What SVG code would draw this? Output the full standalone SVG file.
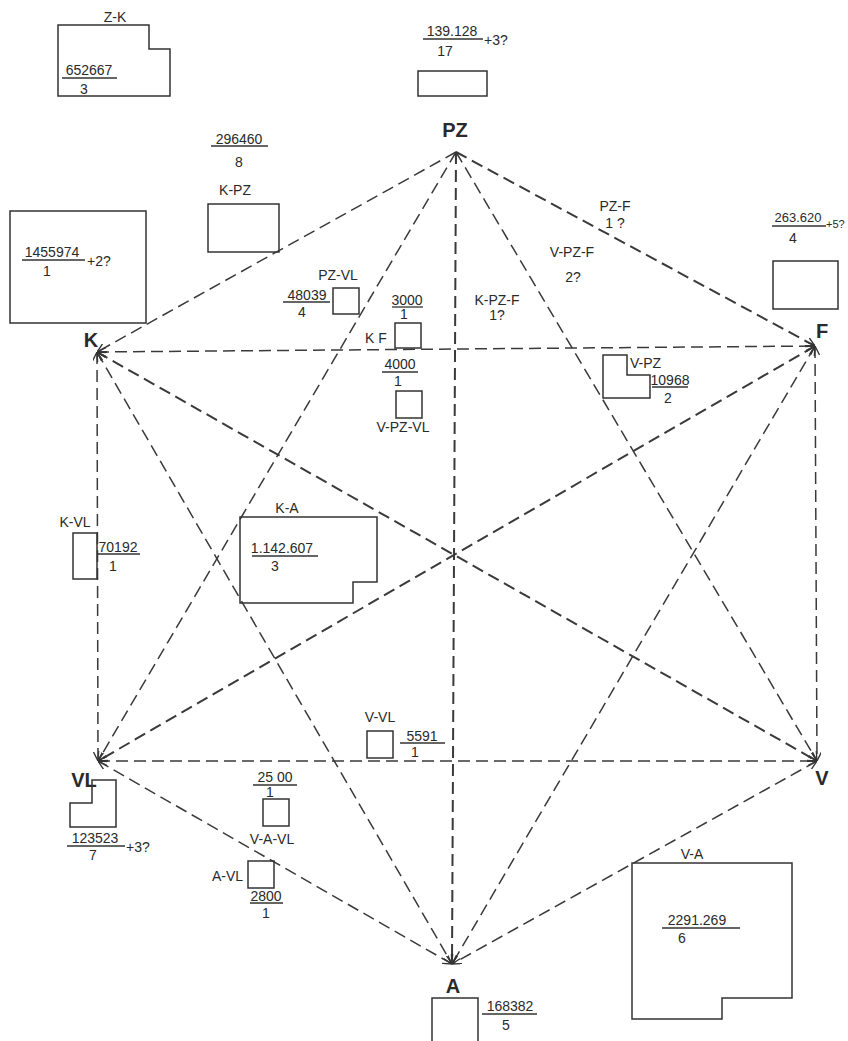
<svg xmlns="http://www.w3.org/2000/svg" width="848" height="1041" viewBox="0 0 848 1041">
<style>
.t{font-family:"Liberation Sans",Arial,sans-serif;font-size:14px;fill:#2a2a2a;text-anchor:middle}
.s{text-anchor:start}
.r{text-anchor:end}
.n{font-size:20px;font-weight:bold}
.b{fill:none;stroke:#333;stroke-width:1.5}
.f{stroke:#333;stroke-width:1.3}
.e{stroke:#3a3a3a;stroke-width:1.5;stroke-dasharray:12 6;fill:none}
.e2{stroke-width:2}
</style>
<defs>
<marker id="ah" viewBox="0 0 10 10" refX="10" refY="5" markerWidth="9" markerHeight="9" markerUnits="userSpaceOnUse" orient="auto-start-reverse">
<path d="M0,0 L10,5 L0,10" fill="none" stroke="#333" stroke-width="1.5"/>
</marker>
</defs>
<rect width="848" height="1041" fill="#fff"/>
<g id="connectors">
<line class="e" x1="456" y1="152" x2="97" y2="352" marker-end="url(#ah)"/>
<line class="e e2" x1="456" y1="152" x2="815" y2="346" marker-end="url(#ah)"/>
<line class="e" x1="456" y1="152" x2="98" y2="761" marker-end="url(#ah)"/>
<line class="e" x1="456" y1="152" x2="817" y2="761" marker-end="url(#ah)"/>
<line class="e e2" x1="456" y1="152" x2="452" y2="964" marker-end="url(#ah)"/>
<line class="e" x1="97" y1="352" x2="815" y2="346" marker-start="url(#ah)" marker-end="url(#ah)"/>
<line class="e" x1="97" y1="352" x2="98" y2="761" marker-start="url(#ah)" marker-end="url(#ah)"/>
<line class="e e2" x1="97" y1="352" x2="817" y2="761" marker-start="url(#ah)" marker-end="url(#ah)"/>
<line class="e" x1="97" y1="352" x2="452" y2="964" marker-start="url(#ah)" marker-end="url(#ah)"/>
<line class="e e2" x1="815" y1="346" x2="98" y2="761" marker-start="url(#ah)" marker-end="url(#ah)"/>
<line class="e" x1="815" y1="346" x2="817" y2="761" marker-start="url(#ah)" marker-end="url(#ah)"/>
<line class="e" x1="815" y1="346" x2="452" y2="964" marker-start="url(#ah)" marker-end="url(#ah)"/>
<line class="e" x1="98" y1="761" x2="817" y2="761" marker-start="url(#ah)" marker-end="url(#ah)"/>
<line class="e" x1="98" y1="761" x2="452" y2="964" marker-start="url(#ah)" marker-end="url(#ah)"/>
<line class="e" x1="817" y1="761" x2="452" y2="964" marker-start="url(#ah)" marker-end="url(#ah)"/>
</g>
<g id="node-PZ"><text class="t n" x="455" y="137">PZ</text></g>
<g id="node-K"><text class="t n" x="91" y="347">K</text></g>
<g id="node-F"><text class="t n" x="822" y="338">F</text></g>
<g id="node-VL"><text class="t n" x="84" y="787">VL</text></g>
<g id="node-V"><text class="t n" x="822" y="785">V</text></g>
<g id="node-A"><text class="t n" x="453" y="993">A</text></g>

<g id="box-Z-K">
<path class="b" d="M58,25 H149 V49 H170 V96 H58 Z"/>
<text class="t" x="115" y="22">Z-K</text>
<text class="t" x="89" y="75">652667</text>
<line class="f" x1="62" y1="78" x2="117" y2="78"/>
<text class="t" x="84" y="94">3</text>
</g>
<g id="box-top">
<text class="t" x="452" y="36">139.128</text>
<line class="f" x1="423" y1="39" x2="483" y2="39"/>
<text class="t s" x="484" y="45">+3?</text>
<text class="t" x="445" y="56">17</text>
<rect class="b" x="418" y="71" width="69" height="25"/>
</g>
<g id="box-K-PZ">
<text class="t" x="239" y="144">296460</text>
<line class="f" x1="211" y1="146" x2="268" y2="146"/>
<text class="t" x="239" y="167">8</text>
<text class="t" x="235" y="195">K-PZ</text>
<rect class="b" x="208" y="204" width="71" height="48"/>
</g>
<g id="box-K">
<rect class="b" x="10" y="211" width="136" height="112"/>
<text class="t" x="52" y="257">1455974</text>
<line class="f" x1="22" y1="260" x2="85" y2="260"/>
<text class="t" x="47" y="276">1</text>
<text class="t s" x="87" y="266">+2?</text>
</g>
<g id="box-PZ-VL">
<text class="t" x="338" y="280">PZ-VL</text>
<text class="t" x="307" y="300">48039</text>
<line class="f" x1="283" y1="302" x2="330" y2="302"/>
<text class="t" x="302" y="317">4</text>
<rect class="b" x="333" y="288" width="26" height="26"/>
</g>
<g id="box-K-F">
<text class="t" x="407" y="305">3000</text>
<line class="f" x1="392" y1="307" x2="423" y2="307"/>
<text class="t" x="404" y="319">1</text>
<text class="t" x="376" y="343">K F</text>
<rect class="b" x="395" y="323" width="26" height="25"/>
</g>
<g id="box-V-PZ-VL">
<text class="t" x="400" y="369">4000</text>
<line class="f" x1="382" y1="372" x2="418" y2="372"/>
<text class="t" x="398" y="386">1</text>
<rect class="b" x="396" y="391" width="26" height="27"/>
<text class="t" x="403" y="432">V-PZ-VL</text>
</g>
<g id="label-PZ-F">
<text class="t" x="615" y="211">PZ-F</text>
<text class="t" x="615" y="228">1 ?</text>
</g>
<g id="label-V-PZ-F">
<text class="t" x="572" y="257">V-PZ-F</text>
<text class="t" x="573" y="282">2?</text>
</g>
<g id="label-K-PZ-F">
<text class="t" x="497" y="305">K-PZ-F</text>
<text class="t" x="497" y="320">1?</text>
</g>
<g id="box-F">
<text class="t" x="798" y="222" style="font-size:13px">263.620</text>
<line class="f" x1="772" y1="226" x2="826" y2="226"/>
<text class="t s" x="826" y="228" style="font-size:11px">+5?</text>
<text class="t" x="793" y="243">4</text>
<rect class="b" x="773" y="261" width="65" height="48"/>
</g>
<g id="box-V-PZ">
<path class="b" d="M603,355 H627 V375 H650 V398 H603 Z"/>
<text class="t s" x="630" y="368">V-PZ</text>
<text class="t" x="670" y="385">10968</text>
<line class="f" x1="652" y1="387" x2="688" y2="387"/>
<text class="t" x="668" y="403">2</text>
</g>
<g id="box-K-VL">
<text class="t" x="75" y="527">K-VL</text>
<rect class="b" x="73" y="533" width="24" height="46"/>
<text class="t" x="118" y="552">70192</text>
<line class="f" x1="98" y1="554" x2="140" y2="554"/>
<text class="t" x="113" y="571">1</text>
</g>
<g id="box-K-A">
<text class="t" x="287" y="513">K-A</text>
<path class="b" d="M240,517 H377 V582 H353 V603 H240 Z"/>
<text class="t" x="282" y="553">1.142.607</text>
<line class="f" x1="252" y1="556" x2="318" y2="556"/>
<text class="t" x="275" y="571">3</text>
</g>
<g id="box-V-VL">
<text class="t" x="380" y="722">V-VL</text>
<rect class="b" x="367" y="731" width="26" height="27"/>
<text class="t" x="422" y="741">5591</text>
<line class="f" x1="400" y1="743" x2="445" y2="743"/>
<text class="t" x="415" y="757">1</text>
</g>
<g id="box-VL">
<path class="b" d="M92,780 H116 V827 H70 V803 H92 Z"/>
<text class="t" x="95" y="843">123523</text>
<line class="f" x1="67" y1="846" x2="125" y2="846"/>
<text class="t" x="93" y="860">7</text>
<text class="t s" x="126" y="852">+3?</text>
</g>
<g id="box-V-A-VL">
<text class="t" x="275" y="782">25 00</text>
<line class="f" x1="253" y1="785" x2="297" y2="785"/>
<text class="t" x="270" y="797">1</text>
<rect class="b" x="263" y="799" width="26" height="27"/>
<text class="t" x="272" y="844">V-A-VL</text>
</g>
<g id="box-A-VL">
<text class="t r" x="243" y="881">A-VL</text>
<rect class="b" x="248" y="861" width="26" height="27"/>
<text class="t" x="266" y="901">2800</text>
<line class="f" x1="250" y1="903" x2="283" y2="903"/>
<text class="t" x="266" y="918">1</text>
</g>
<g id="box-A">
<path class="b" d="M432,1045 V998 H478 V1045"/>
<text class="t" x="510" y="1011">168382</text>
<line class="f" x1="482" y1="1014" x2="537" y2="1014"/>
<text class="t" x="506" y="1030">5</text>
</g>
<g id="box-V-A">
<text class="t" x="692" y="859">V-A</text>
<path class="b" d="M632,863 H792 V998 H722 V1019 H632 Z"/>
<text class="t" x="697" y="925">2291.269</text>
<line class="f" x1="662" y1="928" x2="740" y2="928"/>
<text class="t" x="682" y="943">6</text>
</g>
</svg>
